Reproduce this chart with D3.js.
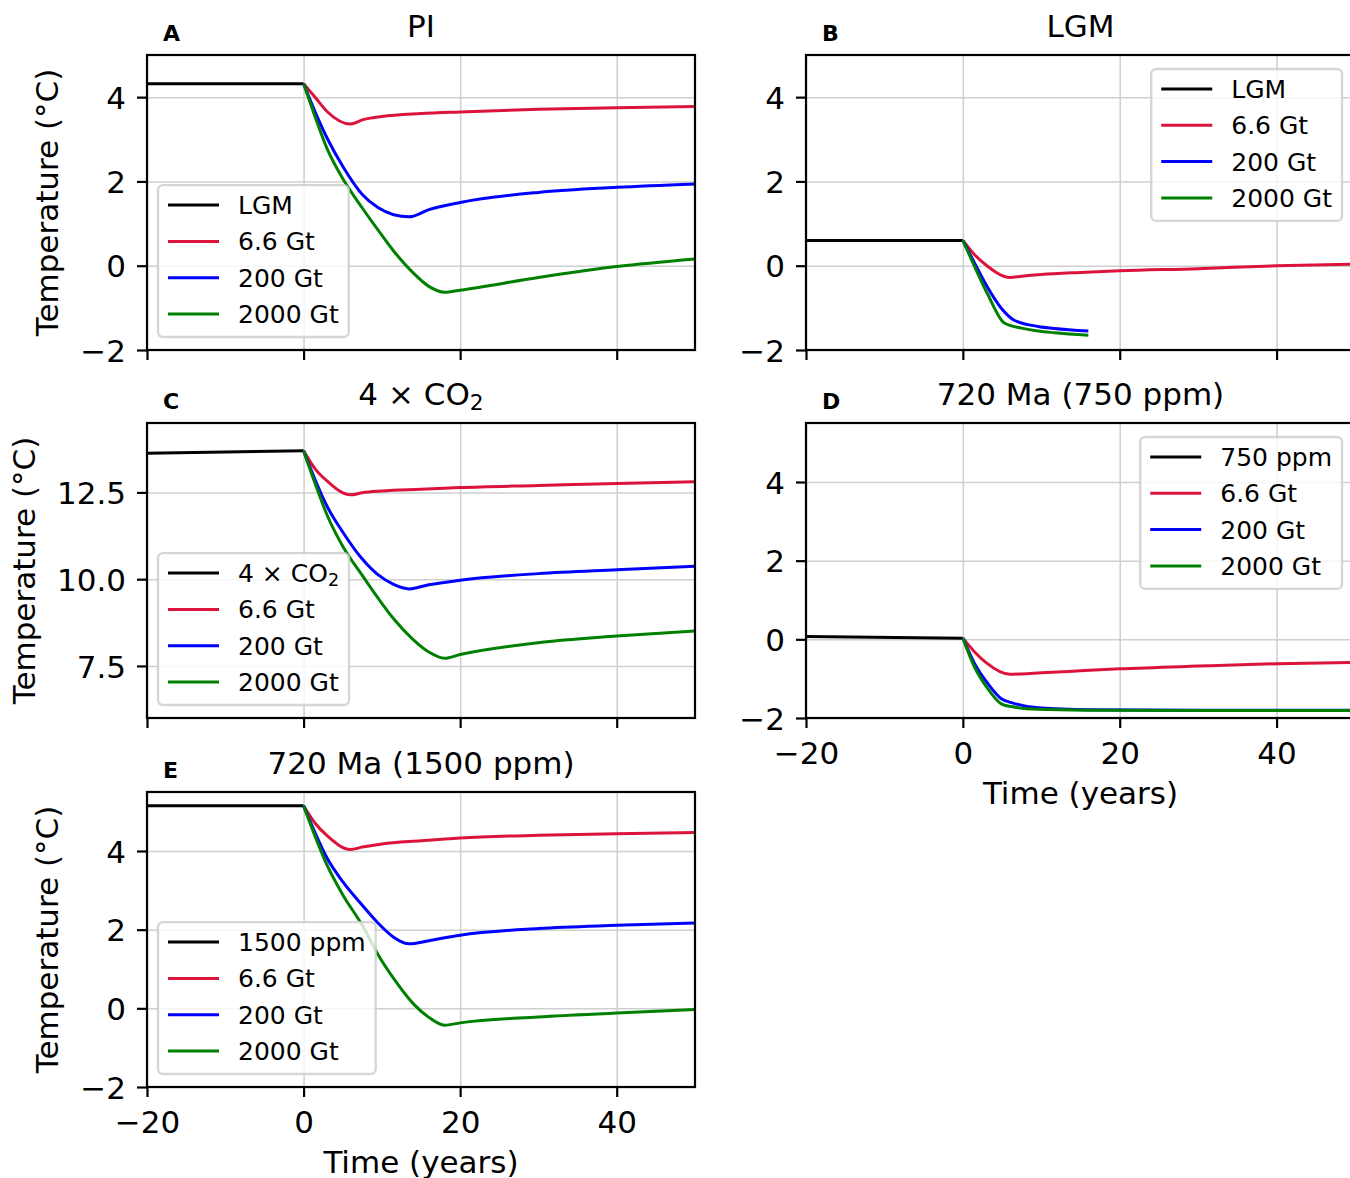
<!DOCTYPE html>
<html>
<head>
<meta charset="utf-8">
<script src="https://cdn.jsdelivr.net/npm/d3@7"></script>
<style>
  body { margin: 0; background: #fff; overflow: hidden; }
  svg { display: block; font-family: "DejaVu Sans", sans-serif; }
</style>
</head>
<body>
<div id="chart"></div>
<script>
// time (years) for each kind of run
const tBase = [-20, 0];
const tRed = [0, 1.5, 3, 6, 7.5, 10, 15, 20, 30, 40, 50];
const tBlue = [0, 1.5, 3, 5, 7.5, 9.5, 11.5, 13.5, 16, 20, 30, 40, 50];
const tGreen = [0, 1.5, 3, 5, 7.5, 9.5, 11.5, 14, 16, 18, 20, 30, 40, 50];
const tLgmBlue = [0, 1.5, 3.2, 4.9, 6.6, 9.6, 11.7, 16];
const tLgmGreen = [0, 1.5, 3.2, 5.3, 7.5, 9.6, 11.7, 16];
const tCold = [0, 1.5, 3.2, 4.9, 6.2, 9.6, 16, 30, 50];

// A - PI
const piBase = [4.32, 4.32];
const piRed = [4.32, 3.99, 3.66, 3.36, 3.46, 3.54, 3.61, 3.65, 3.71, 3.75, 3.78];
const piBlue = [4.32, 3.64, 3.03, 2.36, 1.69, 1.38, 1.21, 1.16, 1.33, 1.50, 1.74, 1.86, 1.94];
const piGreen = [4.32, 3.52, 2.78, 2.07, 1.37, 0.85, 0.35, -0.17, -0.49, -0.63, -0.58, -0.28, -0.02, 0.16];

// B - LGM
const lgmBase = [0.60, 0.60];
const lgmRed = [0.60, 0.26, 0.01, -0.28, -0.25, -0.21, -0.16, -0.12, -0.07, 0.00, 0.04];
const lgmBlue = [0.60, 0.06, -0.53, -1.01, -1.30, -1.44, -1.49, -1.55];
const lgmGreen = [0.60, -0.02, -0.69, -1.36, -1.48, -1.55, -1.59, -1.65];

// C - 4 x CO2
const co2Base = [13.63, 13.70];
const co2Red = [13.70, 13.17, 12.83, 12.43, 12.49, 12.54, 12.59, 12.64, 12.70, 12.76, 12.81];
const co2Blue = [13.70, 12.85, 12.10, 11.36, 10.58, 10.13, 9.85, 9.72, 9.84, 9.97, 10.16, 10.27, 10.37];
const co2Green = [13.70, 12.74, 11.85, 10.95, 10.11, 9.46, 8.86, 8.26, 7.90, 7.72, 7.83, 8.17, 8.36, 8.51];

// D - 720 Ma (750 ppm)
const ma750Base = [0.07, 0.03];
const ma750Red = [0.03, -0.32, -0.60, -0.89, -0.88, -0.85, -0.80, -0.75, -0.68, -0.62, -0.59];
const ma750Blue = [0.03, -0.62, -1.13, -1.51, -1.61, -1.74, -1.79, -1.80, -1.80];
const ma750Green = [0.03, -0.71, -1.26, -1.64, -1.71, -1.78, -1.80, -1.81, -1.81];

// E - 720 Ma (1500 ppm)
const ma1500Base = [5.15, 5.15];
const ma1500Red = [5.15, 4.70, 4.39, 4.04, 4.10, 4.18, 4.26, 4.33, 4.40, 4.44, 4.47];
const ma1500Blue = [5.15, 4.45, 3.82, 3.22, 2.62, 2.17, 1.81, 1.64, 1.72, 1.86, 2.03, 2.11, 2.17];
const ma1500Green = [5.15, 4.36, 3.64, 2.89, 2.11, 1.37, 0.76, 0.12, -0.23, -0.43, -0.37, -0.22, -0.12, -0.03];

const massLabels = ["6.6 Gt", "200 Gt", "2000 Gt"];
const colors = ["#000000", "#dc143c", "#0000ff", "#008000"];
const xTicks = [-20, 0, 20, 40];
const xDomain = [-20, 50];

const width = 1350, height = 1178;
const fontSize = 31;
const svg = d3.select("#chart").append("svg")
    .attr("width", width)
    .attr("height", height);

const panels = [
    { letter: "A", title: "PI", base: "LGM", left: 147, top: 55, w: 548, yDomain: [-2, 5], yTicks: [-2, 0, 2, 4], fmt: d3.format("d"), legend: "ll", ylabel: true, xlabel: false,
      series: [[tBase, piBase], [tRed, piRed], [tBlue, piBlue], [tGreen, piGreen]] },
    { letter: "B", title: "LGM", base: "LGM", left: 806, top: 55, w: 549, yDomain: [-2, 5], yTicks: [-2, 0, 2, 4], fmt: d3.format("d"), legend: "ur", ylabel: false, xlabel: false,
      series: [[tBase, lgmBase], [tRed, lgmRed], [tLgmBlue, lgmBlue], [tLgmGreen, lgmGreen]] },
    { letter: "C", title: "4 × CO_2", base: "4 × CO_2", left: 147, top: 423, w: 548, yDomain: [6, 14.5], yTicks: [7.5, 10, 12.5], fmt: d3.format(".1f"), legend: "ll", ylabel: true, xlabel: false,
      series: [[tBase, co2Base], [tRed, co2Red], [tBlue, co2Blue], [tGreen, co2Green]] },
    { letter: "D", title: "720 Ma (750 ppm)", base: "750 ppm", left: 806, top: 423, w: 549, yDomain: [-2, 5.5], yTicks: [-2, 0, 2, 4], fmt: d3.format("d"), legend: "ur", ylabel: false, xlabel: true,
      series: [[tBase, ma750Base], [tRed, ma750Red], [tCold, ma750Blue], [tCold, ma750Green]] },
    { letter: "E", title: "720 Ma (1500 ppm)", base: "1500 ppm", left: 147, top: 792, w: 548, yDomain: [-2, 5.5], yTicks: [-2, 0, 2, 4], fmt: d3.format("d"), legend: "ll", ylabel: true, xlabel: true,
      series: [[tBase, ma1500Base], [tRed, ma1500Red], [tBlue, ma1500Blue], [tGreen, ma1500Green]] }
];

// writes "CO_2" as CO with a lowered small 2
function richText(sel, str) {
    const parts = str.split("_");
    sel.append("tspan").text(parts[0]);
    if (parts.length > 1) {
        sel.append("tspan").attr("font-size", "70%").attr("dy", "0.25em").text(parts[1]);
    }
}

panels.forEach((p, pi) => {
    const h = 295;
    const g = svg.append("g").attr("transform", `translate(${p.left},${p.top})`);
    const x = d3.scaleLinear().domain(xDomain).range([0, p.w]);
    const y = d3.scaleLinear().domain(p.yDomain).range([h, 0]);

    // grid
    g.append("g")
        .attr("transform", `translate(0,${h})`)
        .call(d3.axisBottom(x).tickValues(xTicks).tickSize(-h).tickFormat(""))
        .call(a => a.select(".domain").remove())
        .call(a => a.selectAll("line").attr("stroke", "#cfcfcf").attr("stroke-width", 1.5));
    g.append("g")
        .call(d3.axisLeft(y).tickValues(p.yTicks).tickSize(-p.w).tickFormat(""))
        .call(a => a.select(".domain").remove())
        .call(a => a.selectAll("line").attr("stroke", "#cfcfcf").attr("stroke-width", 1.5));

    const clipId = "clip" + pi;
    g.append("clipPath").attr("id", clipId)
        .append("rect").attr("width", p.w).attr("height", h);

    const line = d3.line()
        .x(d => x(d[0]))
        .y(d => y(d[1]))
        .curve(d3.curveMonotoneX);

    g.append("g").attr("clip-path", `url(#${clipId})`)
        .selectAll("path")
        .data(p.series)
        .join("path")
        .attr("d", s => line(d3.zip(s[0], s[1])))
        .attr("fill", "none")
        .attr("stroke", (s, i) => colors[i])
        .attr("stroke-width", 3)
        .attr("stroke-linejoin", "round")
        .attr("stroke-linecap", "butt");

    // axes
    const yAxis = g.append("g")
        .call(d3.axisLeft(y).tickValues(p.yTicks).tickSize(10).tickPadding(11).tickFormat(p.fmt));
    yAxis.select(".domain").remove();
    yAxis.selectAll("line").attr("stroke", "#000").attr("stroke-width", 2.2);
    yAxis.selectAll("text").attr("font-size", fontSize).attr("font-family", "DejaVu Sans").attr("fill", "#000").attr("dy", "0.36em");

    const xAxis = g.append("g")
        .attr("transform", `translate(0,${h})`)
        .call(d3.axisBottom(x).tickValues(xTicks).tickSize(10).tickPadding(10)
            .tickFormat(p.xlabel ? d3.format("d") : ""));
    xAxis.select(".domain").remove();
    xAxis.selectAll("line").attr("stroke", "#000").attr("stroke-width", 2.2);
    xAxis.selectAll("text").attr("font-size", fontSize).attr("font-family", "DejaVu Sans").attr("fill", "#000").attr("dy", "0.83em");

    // frame
    g.append("rect")
        .attr("width", p.w).attr("height", h)
        .attr("fill", "none").attr("stroke", "#000").attr("stroke-width", 2.2);

    // titles
    g.append("text")
        .attr("x", p.w / 2).attr("y", -18)
        .attr("text-anchor", "middle").attr("font-size", fontSize)
        .call(t => richText(t, p.title));
    g.append("text")
        .attr("x", 16).attr("y", -14)
        .attr("font-size", 22).attr("font-weight", "bold")
        .text(p.letter);

    if (p.ylabel) {
        let minX = 0;
        yAxis.selectAll("text").each(function () {
            minX = Math.min(minX, this.getBBox().x);
        });
        g.append("text")
            .attr("transform", `translate(${minX - 22},${h / 2}) rotate(-90)`)
            .attr("text-anchor", "middle").attr("font-size", fontSize)
            .text("Temperature (°C)");
    }
    if (p.xlabel) {
        g.append("text")
            .attr("x", p.w / 2).attr("y", h + 86)
            .attr("text-anchor", "middle").attr("font-size", fontSize)
            .text("Time (years)");
    }

    // legend
    const labels = [p.base].concat(massLabels);
    const lg = g.append("g");
    const box = lg.append("rect");
    const rowH = 36.3;
    let maxW = 0;
    labels.forEach((lab, i) => {
        const cy = 20 + i * rowH;
        lg.append("line")
            .attr("x1", 10).attr("x2", 61).attr("y1", cy).attr("y2", cy)
            .attr("stroke", colors[i]).attr("stroke-width", 3);
        const t = lg.append("text")
            .attr("x", 80).attr("y", cy + 8.9)
            .attr("font-size", 25)
            .call(s => richText(s, lab));
        maxW = Math.max(maxW, t.node().getComputedTextLength());
    });
    const bw = 80 + maxW + 10, bh = 20 + 3 * rowH + 23;
    box.attr("width", bw).attr("height", bh).attr("rx", 5)
        .attr("fill", "#fff").attr("fill-opacity", 0.8)
        .attr("stroke", "#cccccc").attr("stroke-opacity", 0.8).attr("stroke-width", 2.4);
    const lx = p.legend === "ll" ? 11 : p.w - 13 - bw;
    const ly = p.legend === "ll" ? h - 13 - bh : 14;
    lg.attr("transform", `translate(${lx},${ly})`);
});
</script>
</body>
</html>
